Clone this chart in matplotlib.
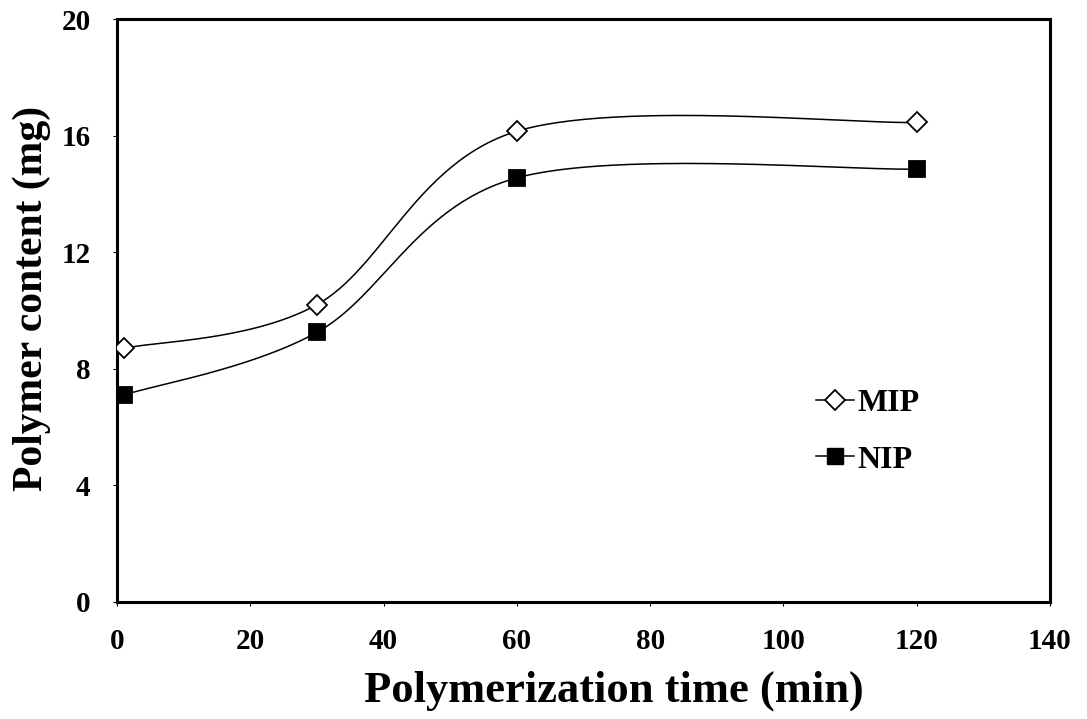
import numpy as np
import matplotlib
matplotlib.use("Agg")
import matplotlib.pyplot as plt
from matplotlib.lines import Line2D

time_min = [1, 30, 60, 120]
mip = [8.7, 10.2, 16.15, 16.45]
nip = [7.1, 9.25, 14.55, 14.85]
x_ticks = [0, 20, 40, 60, 80, 100, 120, 140]
y_ticks = [0, 4, 8, 12, 16, 20]


def excel_smooth(xs, ys, n=60):
    P = np.column_stack([xs, ys]).astype(float)
    ext = np.vstack([P[0], P, P[-1]])
    out = []
    for i in range(len(P) - 1):
        p0, p1, p2, p3 = ext[i], ext[i + 1], ext[i + 2], ext[i + 3]
        c1 = p1 + (p2 - p0) / 6.0
        c2 = p2 - (p3 - p1) / 6.0
        t = np.linspace(0, 1, n)[:, None]
        seg = ((1 - t) ** 3) * p1 + 3 * ((1 - t) ** 2) * t * c1 + 3 * (1 - t) * t ** 2 * c2 + t ** 3 * p2
        out.append(seg if i == 0 else seg[1:])
    s = np.vstack(out)
    return s[:, 0], s[:, 1]


plt.rcParams['font.family'] = ['Liberation Serif', 'DejaVu Serif']
plt.rcParams['font.weight'] = 'bold'

fig = plt.figure(figsize=(10.87, 7.19), dpi=100)
ax = fig.add_axes([117 / 1087, 1 - 602 / 719, (1050 - 117) / 1087, (602 - 19) / 719])

for ys, mk, fc in [(mip, 'D', 'white'), (nip, 's', 'black')]:
    sx, sy = excel_smooth(time_min, ys)
    ax.plot(sx, sy, color='black', lw=1.1, zorder=2)
    ax.plot(time_min, ys, linestyle='none', marker=mk, ms=11 if mk == 's' else 10,
            mfc=fc, mec='black', mew=1.3, zorder=3)

ax.set_xlim(0, 140)
ax.set_ylim(0, 20)
ax.set_xticks(x_ticks)
ax.set_yticks(y_ticks)
ax.tick_params(direction='out', length=3, width=0.8, labelsize=21)
ax.tick_params(axis='x', pad=16)
ax.tick_params(axis='y', pad=16)
for lab in ax.get_xticklabels() + ax.get_yticklabels():
    lab.set_fontweight('bold')
for sp in ax.spines.values():
    sp.set_linewidth(2.2)

ax.set_xlabel('Polymerization time (min)', fontsize=32, fontweight='bold')
ax.set_ylabel('Polymer content (mg)', fontsize=30, fontweight='bold')
ax.xaxis.set_label_coords(0.533, -0.118)
ax.yaxis.set_label_coords(-0.071, 0.52)

handles = [
    Line2D([0], [0], color='black', lw=1.1, marker='D', ms=10, mfc='white', mec='black', mew=1.3),
    Line2D([0], [0], color='black', lw=1.1, marker='s', ms=11, mfc='black', mec='black'),
]
leg = ax.legend(handles, ['MIP', 'NIP'], loc='upper left', bbox_to_anchor=(0.718, 0.415),
                frameon=False, handlelength=1.2, handletextpad=0.1, labelspacing=0.85,
                prop={'family': 'Liberation Serif', 'weight': 'bold', 'size': 23})

fig.savefig('out.png', dpi=100)
